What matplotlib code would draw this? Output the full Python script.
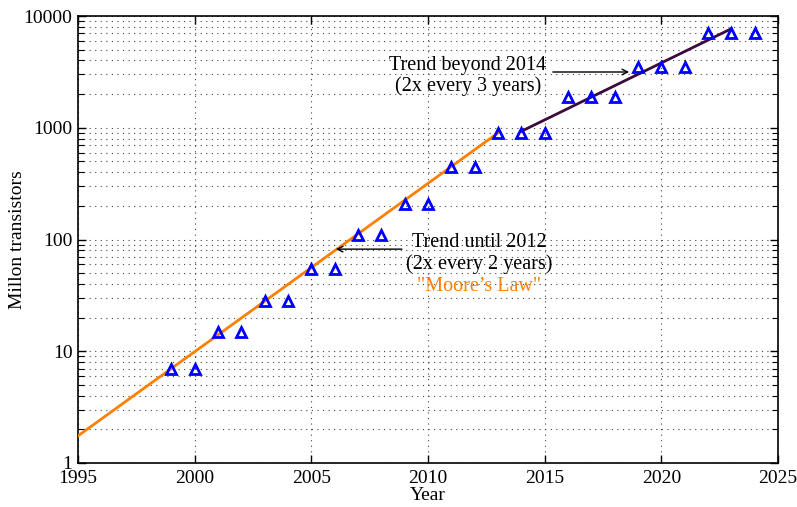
import matplotlib
matplotlib.use("Agg")
import matplotlib.pyplot as plt
from matplotlib.ticker import LogLocator, FixedLocator, NullFormatter, FuncFormatter

plt.rcParams['font.family'] = ['Liberation Serif', 'DejaVu Serif']
plt.rcParams['mathtext.fontset'] = 'stix'

years = [1999, 2000, 2001, 2002, 2003, 2004, 2005, 2006, 2007, 2008, 2009, 2010,
         2011, 2012, 2013, 2014, 2015, 2016, 2017, 2018, 2019, 2020, 2021, 2022,
         2023, 2024]
transistors = [7, 7, 15, 15, 28, 28, 55, 55, 110, 110, 210, 210,
               450, 450, 900, 900, 900, 1900, 1900, 1900, 3500, 3500, 3500, 7000,
               7000, 7000]

trend1_x = [1995, 2013]
trend1_y = [1.75, 900]
trend2_x = [2014, 2023]
trend2_y = [930, 7700]

xticks = [1995, 2000, 2005, 2010, 2015, 2020, 2025]
yticks = [1, 10, 100, 1000, 10000]

fig = plt.figure(figsize=(7.97, 5.07), dpi=100)
ax = fig.add_axes([0.0979, 0.0868, 0.8783, 0.8816])

ax.plot(trend1_x, trend1_y, color='#ff8000', lw=2, zorder=3)
ax.plot(trend2_x, trend2_y, color='#3d0a3d', lw=2, zorder=3)
ax.plot(years, transistors, linestyle='none', marker='^', markersize=7,
        markerfacecolor='none', markeredgecolor='#0000ff', markeredgewidth=2, zorder=4)

ax.set_yscale('log')
ax.set_xlim(1995, 2025)
ax.set_ylim(1, 10000)
ax.set_xticks(xticks)
ax.set_xticklabels([str(t) for t in xticks])
ax.yaxis.set_major_locator(FixedLocator(yticks))
ax.yaxis.set_major_formatter(FuncFormatter(lambda v, p: '%d' % v))
ax.yaxis.set_minor_locator(LogLocator(base=10, subs=range(2, 10)))
ax.yaxis.set_minor_formatter(NullFormatter())

ax.grid(True, which='major', axis='both', linestyle=(0, (1, 4)), color='#444444', lw=0.8)
ax.grid(True, which='minor', axis='y', linestyle=(0, (1, 4)), color='#444444', lw=0.8)

ax.tick_params(which='both', direction='in', top=True, right=True, labelsize=14)
ax.tick_params(axis='x', which='major', pad=5)
ax.tick_params(axis='y', which='major', pad=4)
ax.tick_params(which='major', length=6, width=1)
ax.tick_params(which='minor', length=4, width=0.8)
for s in ax.spines.values():
    s.set_linewidth(1.2)

ax.set_xlabel('Year', fontsize=14, labelpad=0)
ax.set_ylabel('Millon transistors', fontsize=14, labelpad=-2)

ax.annotate('', xy=(2005.93, 82), xytext=(2009.0, 82),
            arrowprops=dict(arrowstyle='->', color='black', lw=1))
ax.text(2012.2, 75, 'Trend until 2012\n(2x every 2 years)', ha='center', va='center',
        fontsize=14.5, linespacing=1.1)
ax.text(2012.2, 37.6, '"Moore\u2019s Law"', ha='center', va='center',
        fontsize=14.5, color='#ff8000')

ax.annotate('', xy=(2018.74, 3155), xytext=(2015.23, 3155),
            arrowprops=dict(arrowstyle='->', color='black', lw=1))
ax.text(2011.71, 2900, 'Trend beyond 2014\n(2x every 3 years)', ha='center', va='center',
        fontsize=14.5, linespacing=1.1)

fig.savefig('out.png', dpi=100)
